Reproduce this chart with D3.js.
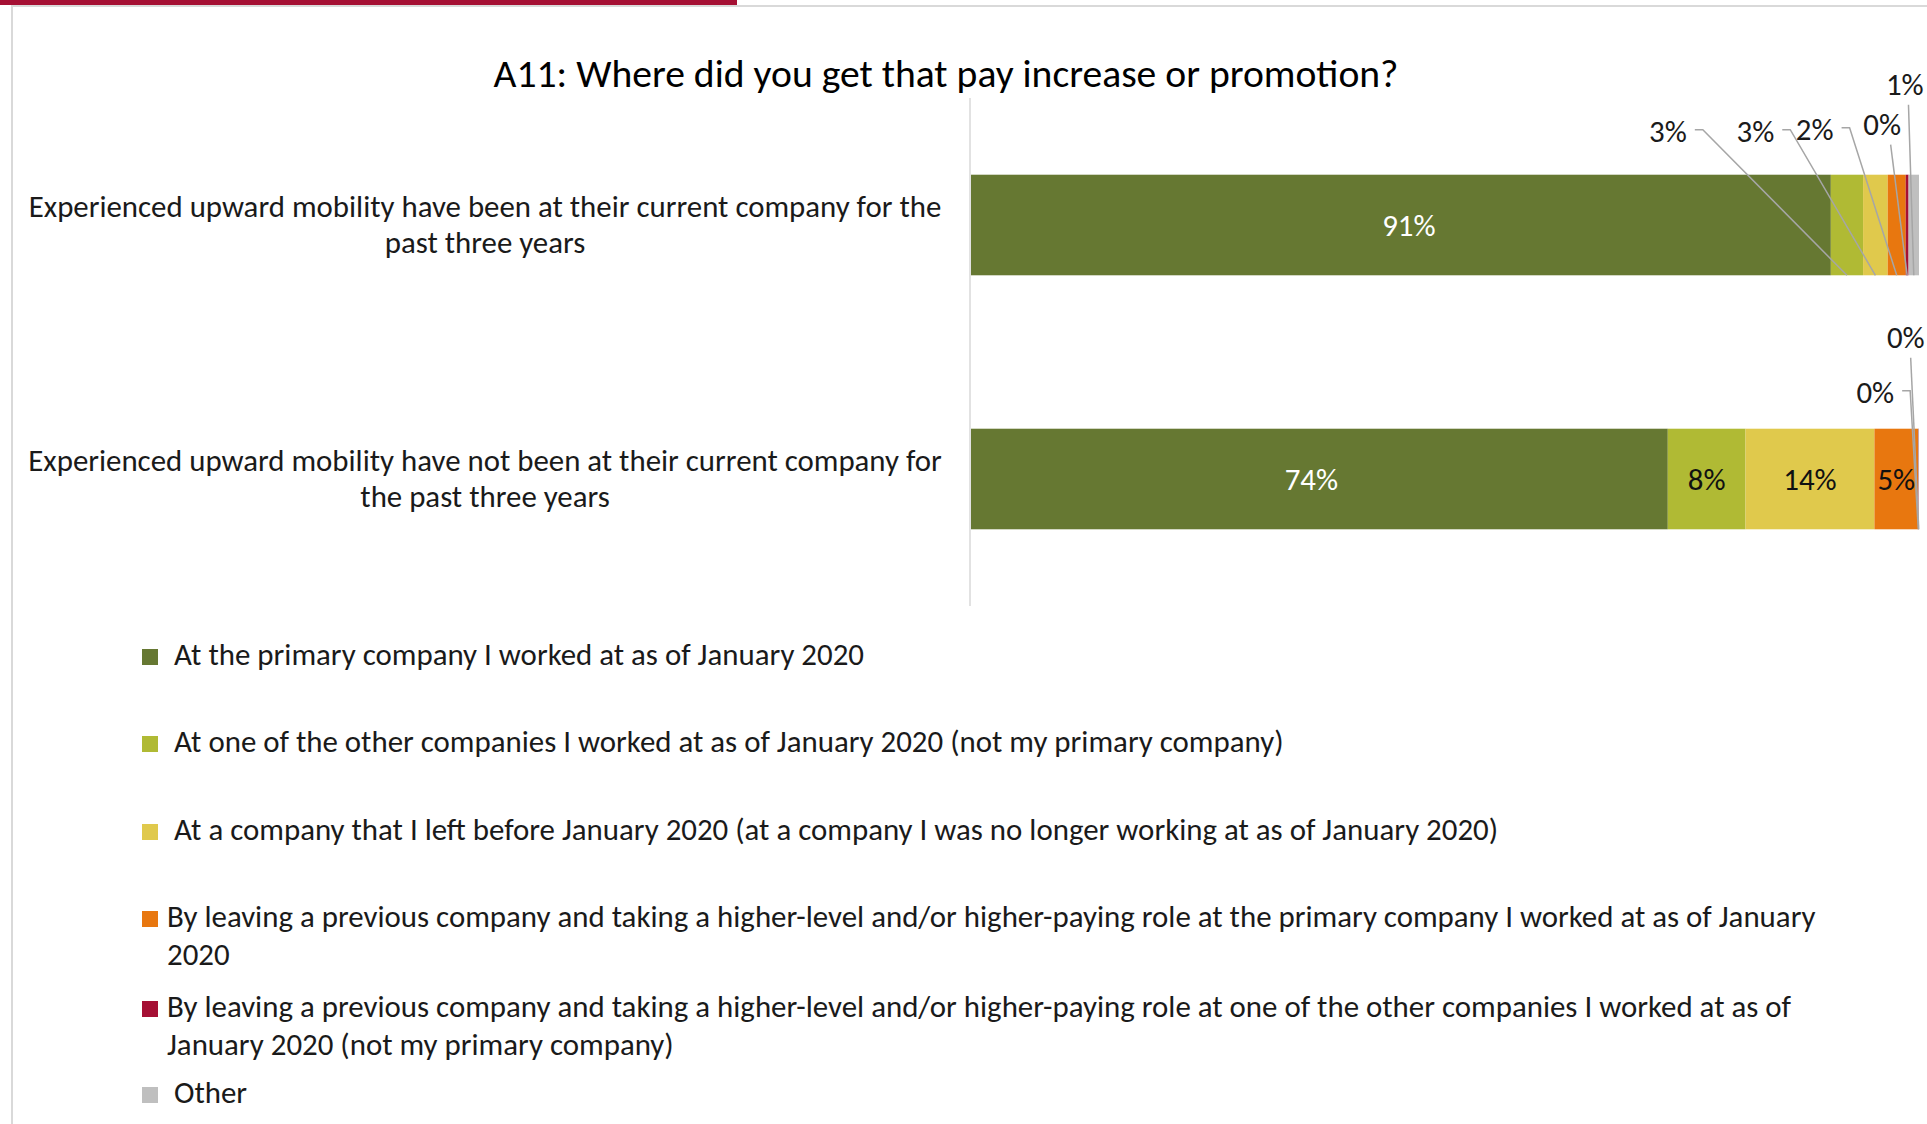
<!DOCTYPE html>
<html>
<head>
<meta charset="utf-8">
<script src="https://cdn.jsdelivr.net/npm/d3@7"></script>
<style>
  body { margin: 0; background: #fff; }
  svg { display: block; font-family: Carlito, Calibri, Lato, sans-serif; }
</style>
</head>
<body>
<div id="chart"></div>
<script>
// Category labels (already wrapped the way the reference wraps them)
const categories = [
    ['Experienced upward mobility have been at their current company for the', 'past three years'],
    ['Experienced upward mobility have not been at their current company for', 'the past three years']
];

// Series values, one per category (percent)
const atPrimary = [90.7, 73.5];
const atOther = [3.4, 8.2];
const leftBefore = [2.6, 13.6];
const leavingToPrimary = [1.9, 4.6];
const leavingToOther = [0.3, 0.05];
const otherSource = [1.1, 0.05];

const seriesKeys = ['atPrimary', 'atOther', 'leftBefore', 'leavingToPrimary', 'leavingToOther', 'otherSource'];
const seriesColors = ['#667832', '#b0ba34', '#e0c94c', '#e8770f', '#a51034', '#bfbfbf'];
const seriesLabels = [
    ['At the primary company I worked at as of January 2020'],
    ['At one of the other companies I worked at as of January 2020 (not my primary company)'],
    ['At a company that I left before January 2020 (at a company I was no longer working at as of January 2020)'],
    ['By leaving a previous company and taking a higher-level and/or higher-paying role at the primary company I worked at as of January', '2020'],
    ['By leaving a previous company and taking a higher-level and/or higher-paying role at one of the other companies I worked at as of', 'January 2020 (not my primary company)'],
    ['Other']
];

// Small slices get a callout label with a leader line: [series, category, dx, dy, style]
const callouts = [
    [1, 0, -179, -44, 'elbow'],
    [2, 0, -120, -44, 'elbow'],
    [3, 0, -82, -46, 'elbow'],
    [4, 0, -25, -51, 'below'],
    [5, 0, -9, -91, 'below'],
    [4, 1, -43, -37, 'elbow'],
    [5, 1, -13, -92, 'below']
];

const W = 1927, H = 1124;

const svg = d3.select('#chart')
    .append('svg')
    .attr('width', W)
    .attr('height', H);

// Page frame: red tab, grey rule and left border
svg.append('rect').attr('x', 11).attr('y', 5).attr('width', W - 11).attr('height', 2).attr('fill', '#d9d9d9');
svg.append('rect').attr('x', 11).attr('y', 5).attr('width', 2).attr('height', H - 5).attr('fill', '#d9d9d9');
svg.append('rect').attr('x', 0).attr('y', 0).attr('width', 737).attr('height', 5).attr('fill', '#a51034');

// Build table for stacking
const table = categories.map((c, i) => ({
    idx: i,
    atPrimary: atPrimary[i],
    atOther: atOther[i],
    leftBefore: leftBefore[i],
    leavingToPrimary: leavingToPrimary[i],
    leavingToOther: leavingToOther[i],
    otherSource: otherSource[i]
}));
const stacked = d3.stack().keys(seriesKeys)(table);

// Scales
const x = d3.scaleLinear().domain([0, 100]).range([971, 1919]);
const y = d3.scaleBand()
    .domain(categories.map((c, i) => i))
    .range([98, 606])
    .paddingInner(0.604)
    .paddingOuter(0.302);

// Title
const title = svg.append('text')
    .attr('x', 946)
    .attr('y', 87)
    .attr('text-anchor', 'middle')
    .style('font-size', '40px')
    .attr('fill', '#000')
    .text('A11: Where did you get that pay increase or promotion?');
title.style('font-size', (40 * 905 / title.node().getComputedTextLength()) + 'px');

// Vertical category axis line
svg.append('line')
    .attr('x1', 970).attr('x2', 970)
    .attr('y1', y.range()[0]).attr('y2', y.range()[1])
    .attr('stroke', '#d9d9d9')
    .attr('stroke-width', 1.5);

// Category labels
const catGroup = svg.append('g').attr('fill', '#1a1a1a');
const catTexts = catGroup.selectAll('text')
    .data(categories)
    .enter()
    .append('text')
    .attr('text-anchor', 'middle')
    .style('font-size', '30px');
catTexts.each(function(lines, i) {
    const cy = y(i) + y.bandwidth() / 2;
    d3.select(this).selectAll('tspan')
        .data(lines)
        .enter()
        .append('tspan')
        .attr('x', 485)
        .attr('y', (d, j) => cy - 8 + j * 36)
        .text(d => d);
});
const catSize = 30 * 913 / catTexts.select('tspan').node().getComputedTextLength();
catTexts.style('font-size', catSize + 'px');

// Stacked bars
const layers = svg.append('g')
    .selectAll('g')
    .data(stacked)
    .enter()
    .append('g')
    .attr('fill', (d, i) => seriesColors[i]);

layers.selectAll('rect')
    .data(d => d)
    .enter()
    .append('rect')
    .attr('x', d => x(d[0]))
    .attr('y', d => y(d.data.idx))
    .attr('width', d => x(d[1]) - x(d[0]))
    .attr('height', y.bandwidth());

// Legend
const legend = svg.append('g').attr('fill', '#1a1a1a');
const legendRows = [665, 752, 840, 927, 1017, 1103];
const legendTextX = [174, 174, 174, 167, 167, 174];
seriesLabels.forEach((lines, i) => {
    legend.append('rect')
        .attr('x', 142)
        .attr('y', legendRows[i] - 16)
        .attr('width', 16)
        .attr('height', 16)
        .attr('fill', seriesColors[i]);
    const t = legend.append('text')
        .attr('class', 'legend-text')
        .style('font-size', '28px');
    t.selectAll('tspan')
        .data(lines)
        .enter()
        .append('tspan')
        .attr('x', legendTextX[i])
        .attr('y', (d, j) => legendRows[i] + j * 38)
        .text(d => d);
});
const refLegend = legend.selectAll('.legend-text').filter((d, i) => i === 3).select('tspan').node();
const legendSize = 28 * 1649 / refLegend.getComputedTextLength();
legend.selectAll('.legend-text').style('font-size', legendSize + 'px');

// Data labels
const fmt = v => Math.round(v) + '%';
const isCallout = (s, c) => callouts.some(k => k[0] === s && k[1] === c);
const labels = svg.append('g').style('font-size', legendSize + 'px');

stacked.forEach((layer, s) => {
    layer.forEach((d, c) => {
        if (isCallout(s, c)) return;
        labels.append('text')
            .attr('x', (x(d[0]) + x(d[1])) / 2 + (s === 0 ? (c === 0 ? 8 : -8) : 0))
            .attr('y', y(c) + y.bandwidth() / 2)
            .attr('dy', '0.35em')
            .attr('text-anchor', 'middle')
            .attr('fill', s === 0 ? '#ffffff' : '#111')
            .text(fmt(d[1] - d[0]));
    });
});

// Callout labels with leader lines
callouts.forEach(([s, c, dx, dy, style]) => {
    const d = stacked[s][c];
    const cx = (x(d[0]) + x(d[1])) / 2;
    const top = y(c);
    const bottom = y(c) + y.bandwidth();
    const lx = cx + dx, ly = top + dy;

    const t = labels.append('text')
        .attr('x', lx)
        .attr('y', ly)
        .attr('dy', '0.35em')
        .attr('text-anchor', 'middle')
        .attr('fill', '#1a1a1a')
        .text(fmt(d[1] - d[0]));

    const half = t.node().getComputedTextLength() / 2;
    const pts = style === 'elbow'
        ? [[lx + half + 8, ly - 1], [lx + half + 16, ly - 1], [cx, bottom]]
        : [[lx + 1 + (cx - lx) * 0.3, ly + 21], [cx, bottom]];

    svg.append('path')
        .attr('d', d3.line()(pts))
        .attr('fill', 'none')
        .attr('stroke', '#a6a6a6')
        .attr('stroke-width', 1.5);
});
</script>
</body>
</html>
